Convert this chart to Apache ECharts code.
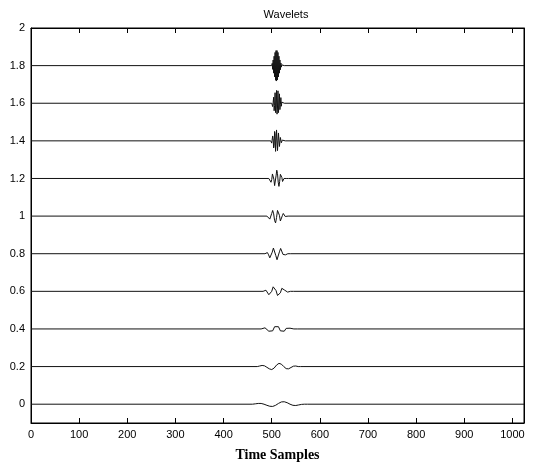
<!DOCTYPE html>
<html>
<head>
<meta charset="utf-8">
<script src="https://cdn.jsdelivr.net/npm/echarts@6/dist/echarts.min.js"></script>
<style>html,body{margin:0;padding:0;background:#fff;}#c{width:535px;height:472px;}</style>
</head>
<body>
<div id="c"></div>
<script>
// ---- data ----
const xTicks = [0,100,200,300,400,500,600,700,800,900,1000];
const yTicks = [0,0.2,0.4,0.6,0.8,1,1.2,1.4,1.6,1.8,2];
const offsets = [0,0.2,0.4,0.6,0.8,1.0,1.2,1.4,1.6,1.8];
const startSample = [460,470,478,482,486,490,494,498,500,500];
const sampleStep  = [6,5,4,3,2.5,2,1.5,1,1,1];
const w0 = [0,0.002,0.004,0.004,0.0,-0.006,-0.011,-0.012,-0.006,0.004,0.012,0.013,0.008,0.0,-0.006,-0.007,-0.004,-0.001,0,0];
const w1 = [0,0.003,0.006,0.004,-0.004,-0.012,-0.016,-0.008,0.008,0.017,0.013,0.0,-0.011,-0.012,-0.005,0.002,0.003,0,0,0];
const w2 = [0,0.003,0.006,0.0,-0.012,-0.02,-0.01,0.012,0.022,0.012,-0.01,-0.02,-0.012,0.003,0.008,0.004,0.001,0,0,0];
const w3 = [0,0.004,0.006,-0.004,-0.018,-0.02,0.0,0.024,0.026,0.004,-0.022,-0.026,-0.008,0.016,0.018,0.006,-0.004,-0.004,-0.001,0,0,0];
const w4 = [0,0.004,0.006,-0.006,-0.022,-0.018,0.008,0.03,0.022,-0.01,-0.032,-0.022,0.01,0.028,0.018,-0.004,-0.012,-0.006,0.0,0,0,0];
const w5 = [0,0.004,-0.004,-0.016,-0.01,0.014,0.03,0.012,-0.024,-0.036,-0.008,0.03,0.034,0.004,-0.026,-0.022,0.002,0.014,0.008,-0.002,-0.002,0,0,0,0];
const w6 = [0,0.005,-0.006,-0.02,-0.006,0.024,0.03,-0.004,-0.038,-0.03,0.014,0.044,0.026,-0.02,-0.042,-0.016,0.022,0.032,0.006,-0.016,-0.014,0.0,0.004,0,0,0,0,0];
const w7 = [0,0.008,-0.012,-0.006,0.026,0.012,-0.038,-0.026,0.05,0.038,-0.056,-0.048,0.058,0.05,-0.052,-0.046,0.042,0.036,-0.03,-0.026,0.018,0.014,-0.01,-0.006,0.004,0.002,-0.001,0,0,0,0,0,0,0,0];
const w8 = [0,0.01,-0.018,0.006,0.032,-0.04,-0.012,0.056,-0.05,-0.02,0.068,-0.058,-0.02,0.066,-0.05,-0.014,0.05,-0.034,-0.006,0.03,-0.016,0.006,-0.002,0,0,0,0,0,0,0,0,0];
const w9 = [0,0.012,-0.02,0.03,-0.04,0.05,-0.06,0.07,-0.078,0.08,-0.082,0.08,-0.076,0.07,-0.06,0.05,-0.04,0.03,-0.022,0.014,-0.008,0.004,-0.002,0,0,0,0,0,0,0,0,0];
const wavelets = [w0,w1,w2,w3,w4,w5,w6,w7,w8,w9];
const xMax = 1024;
const yMin = -0.1, yMax = 2;
const titleText = 'Wavelets';
const xLabel = 'Time Samples';

// ---- build ----
const series = offsets.map((off, i) => {
  const pts = [[0, off]];
  wavelets[i].forEach((v, j) => pts.push([startSample[i] + j * sampleStep[i], off + v]));
  pts.push([xMax, off]);
  return {
    type: 'line', data: pts, showSymbol: false, symbol: 'none',
    lineStyle: { color: '#111', width: 1 }, animation: false, silent: true
  };
});

const font = 'Liberation Sans, Arial, sans-serif';
const xFmt = v => (xTicks.indexOf(v) >= 0 ? String(v) : '');
const yFmt = v => {
  const hit = yTicks.find(t => Math.abs(t - v) < 1e-6);
  return hit === undefined ? '' : String(hit);
};

const chart = echarts.init(document.getElementById('c'));
chart.setOption({
  animation: false,
  backgroundColor: '#fff',
  title: { text: titleText, left: 281, top: 4, textAlign: 'center',
    textStyle: { fontFamily: font, fontSize: 11, fontWeight: 'normal', color: '#000' } },
  grid: { left: 31, right: 3, top: 28, bottom: 49, show: true, borderColor: '#000' },
  xAxis: [
    { type: 'value', min: 0, max: xMax, interval: 100, position: 'bottom',
      name: xLabel, nameLocation: 'middle', nameGap: 25,
      nameTextStyle: { fontFamily: 'Liberation Serif, Times New Roman, serif', fontWeight: 'bold', fontSize: 14, color: '#000' },
      axisLine: { show: true, onZero: false, lineStyle: { color: '#000' } },
      axisTick: { show: true, inside: true, length: 5, lineStyle: { color: '#000', width: 1 } },
      axisLabel: { formatter: xFmt, fontFamily: font, fontSize: 11, color: '#000', margin: 6 },
      splitLine: { show: false } },
    { type: 'value', min: 0, max: xMax, interval: 100, position: 'top',
      axisLine: { show: true, onZero: false, lineStyle: { color: '#000' } },
      axisTick: { show: true, inside: true, length: 5, lineStyle: { color: '#000', width: 1 } },
      axisLabel: { formatter: () => '' },
      splitLine: { show: false } }
  ],
  yAxis: [
    { type: 'value', min: yMin, max: yMax, interval: 0.1, position: 'left',
      axisLine: { show: true, onZero: false, lineStyle: { color: '#000' } },
      axisTick: { show: false },
      axisLabel: { formatter: yFmt, fontFamily: font, fontSize: 11, color: '#000', margin: 6 },
      splitLine: { show: false } },
    { type: 'value', min: yMin, max: yMax, interval: 0.1, position: 'right',
      axisLine: { show: true, onZero: false, lineStyle: { color: '#000' } },
      axisTick: { show: false },
      axisLabel: { formatter: () => '' },
      splitLine: { show: false } }
  ],
  series: series
});
</script>
</body>
</html>
